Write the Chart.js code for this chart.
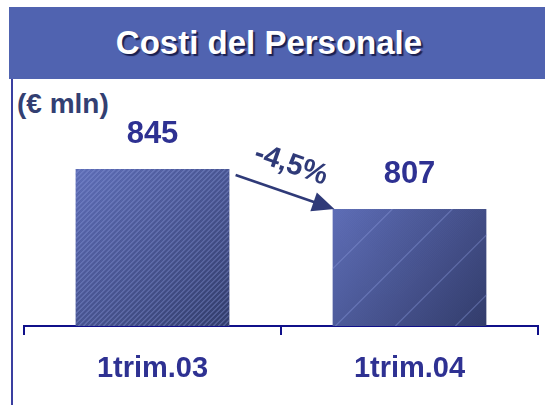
<!DOCTYPE html>
<html>
<head>
<meta charset="utf-8">
<script src="https://cdn.jsdelivr.net/npm/chart.js@4.4.0/dist/chart.umd.min.js"></script>
<style>
  html, body { margin: 0; padding: 0; background: #fff; }
  body { width: 545px; height: 405px; position: relative; overflow: hidden; font-family: 'Liberation Sans', Arial, sans-serif; }
  #banner { position: absolute; left: 9px; top: 7px; width: 536px; height: 72px; background: #5063b0;
    color: #fff; font-weight: bold; font-size: 33px; line-height: 72px; text-align: center; text-indent: -16px;
    text-shadow: 2px 2px 1px #1a1f50; }
  #vline { position: absolute; left: 11px; top: 79px; width: 2px; height: 326px; background: #3a3fa0; }
  #unit { position: absolute; left: 17px; top: 88px; font-weight: bold; font-size: 28px; color: #333f72; }
  canvas { position: absolute; left: 0; top: 0; }
</style>
</head>
<body>
<div id="banner">Costi del Personale</div>
<div id="vline"></div>
<div id="unit">(€ mln)</div>
<canvas id="c" width="545" height="405"></canvas>
<script>
const categories = ['1trim.03', '1trim.04'];
const values = [845, 807];
const changeLabel = '-4,5%';
const stripeGaps = [5, 60];

const navy = '#2e3192';

const barFill = {
  id: 'barFill',
  afterDatasetsDraw(chart) {
    const ctx = chart.ctx;
    const area = chart.chartArea;
    const meta = chart.getDatasetMeta(0);
    meta.data.forEach((el, i) => {
      const x0 = el.x - el.width / 2, x1 = el.x + el.width / 2;
      const y0 = el.y, y1 = Math.min(el.base, area.bottom);
      ctx.save();
      ctx.beginPath();
      ctx.rect(x0, y0, x1 - x0, y1 - y0);
      ctx.clip();
      const g = ctx.createLinearGradient(x0, y0, x1, y1);
      g.addColorStop(0, '#5868b4');
      g.addColorStop(1, '#2b3566');
      ctx.fillStyle = g;
      ctx.fillRect(x0, y0, x1 - x0, y1 - y0);
      const h = y1 - y0;
      // fine texture
      ctx.strokeStyle = 'rgba(255,255,255,0.08)';
      ctx.lineWidth = 1;
      for (let d = -h; d < (x1 - x0) + h; d += 2) {
        ctx.beginPath();
        ctx.moveTo(x0 + d, y1);
        ctx.lineTo(x0 + d + h, y0);
        ctx.stroke();
      }
      // diagonal stripes
      const gap = stripeGaps[i];
      ctx.strokeStyle = 'rgba(140,155,220,0.4)';
      ctx.lineWidth = 1.3;
      for (let d = -h; d < (x1 - x0) + h; d += gap) {
        ctx.beginPath();
        ctx.moveTo(x0 + d, y1);
        ctx.lineTo(x0 + d + h, y0);
        ctx.stroke();
      }
      ctx.restore();

      // value label
      ctx.save();
      ctx.fillStyle = navy;
      ctx.font = 'bold 31px "Liberation Sans", Arial, sans-serif';
      ctx.textAlign = 'center';
      ctx.textBaseline = 'middle';
      ctx.fillText(values[i], el.x, el.y - 35);
      ctx.restore();
    });

    // change arrow between bars
    const a = meta.data[0], b = meta.data[1];
    const sx = a.x + a.width / 2 + 6, sy = a.y + 6;
    const ex = b.x - b.width / 2 + 2, ey = b.y;
    const ang = Math.atan2(ey - sy, ex - sx);
    ctx.save();
    ctx.strokeStyle = '#2f3a78';
    ctx.fillStyle = '#2f3a78';
    ctx.lineWidth = 2.5;
    ctx.beginPath();
    ctx.moveTo(sx, sy);
    ctx.lineTo(ex - 14 * Math.cos(ang), ey - 14 * Math.sin(ang));
    ctx.stroke();
    ctx.translate(ex, ey);
    ctx.rotate(ang);
    ctx.beginPath();
    ctx.moveTo(0, 0);
    ctx.lineTo(-22, -10);
    ctx.lineTo(-22, 10);
    ctx.closePath();
    ctx.fill();
    ctx.restore();

    ctx.save();
    ctx.translate((sx + ex) / 2 + 6, (sy + ey) / 2 - 27);
    ctx.rotate(ang);
    ctx.fillStyle = '#2f3a78';
    ctx.font = 'bold 29px "Liberation Sans", Arial, sans-serif';
    ctx.textAlign = 'center';
    ctx.textBaseline = 'middle';
    ctx.fillText(changeLabel, 0, 0);
    ctx.restore();
  }
};

new Chart(document.getElementById('c'), {
  type: 'bar',
  data: {
    labels: categories,
    datasets: [{
      data: values,
      backgroundColor: 'rgba(0,0,0,0)',
      borderWidth: 0,
      barPercentage: 0.6,
      categoryPercentage: 1.0,
    }]
  },
  options: {
    responsive: false,
    animation: false,
    layout: { padding: { left: 24, right: 7, top: 111, bottom: 0 } },
    plugins: { legend: { display: false }, tooltip: { enabled: false } },
    scales: {
      x: {
        afterFit(scale) { scale.height = 79; },
        grid: { display: true, drawOnChartArea: false, color: '#10108a', lineWidth: 2, tickLength: 9, offset: true },
        border: { display: true, color: '#10108a', width: 2 },
        ticks: { color: navy, padding: 17, maxRotation: 0, font: { family: 'Liberation Sans', size: 29, weight: 'bold' } },
      },
      y: { display: false, min: 696, max: 900 },
    },
  },
  plugins: [barFill],
});
</script>
</body>
</html>
